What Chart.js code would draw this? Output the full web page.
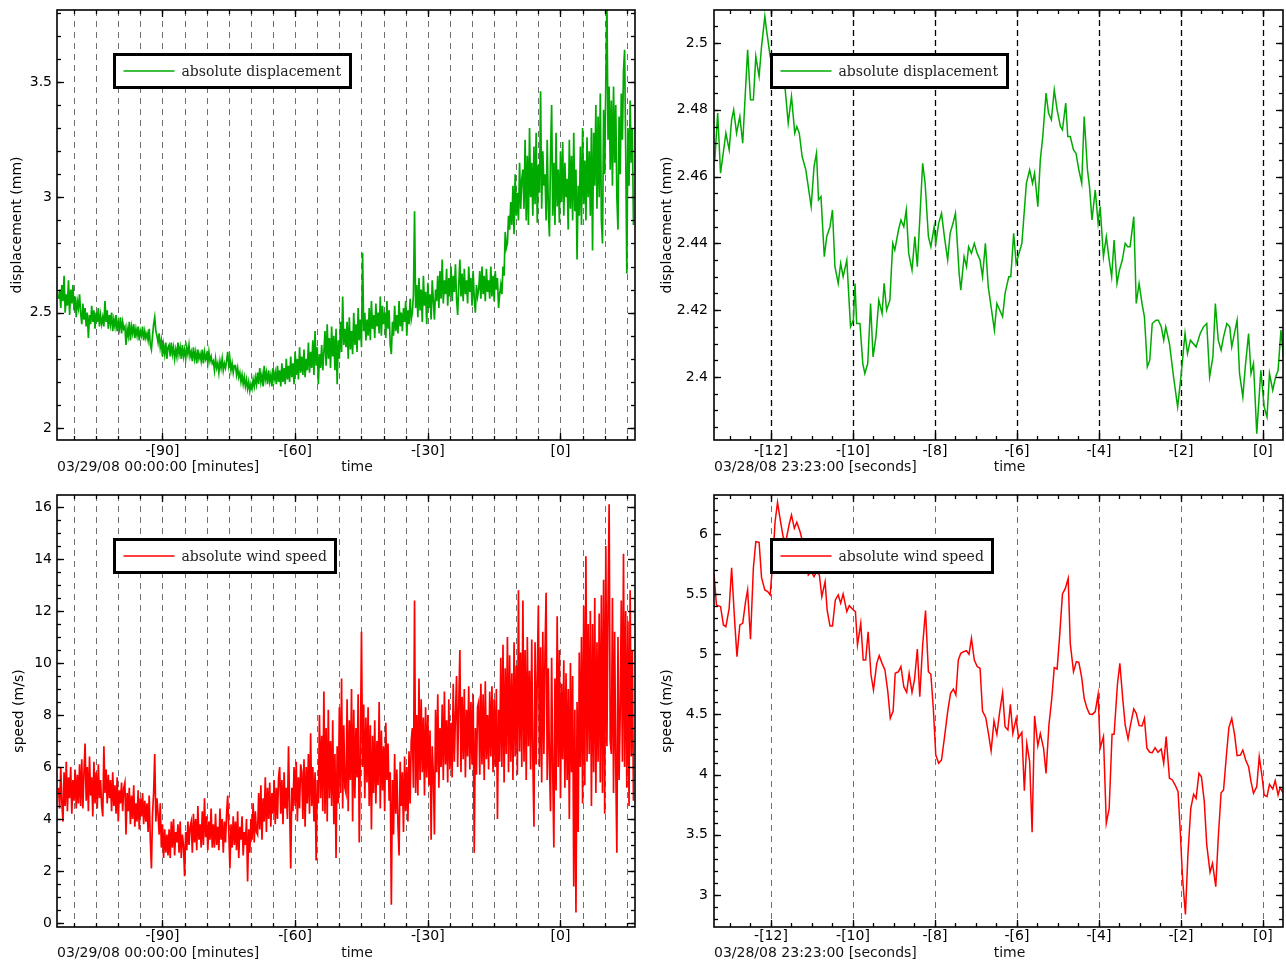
<!DOCTYPE html>
<html lang="en">
<head>
<meta charset="UTF-8">
<title>Absolute displacement and wind speed</title>
<style>
  html, body { margin: 0; padding: 0; background: #fff; }
  .wrap { position: relative; width: 1286px; height: 962px; overflow: hidden; }
  .panel { position: absolute; width: 643px; height: 481px; }
  #p1 { left: 0; top: 0; }
  #p2 { left: 643px; top: 0; }
  #p3 { left: 0; top: 481px; }
  #p4 { left: 643px; top: 481px; }
</style>
</head>
<body>
<div class="wrap">
  <div class="panel" id="p1"><canvas id="dispMinChart"></canvas></div>
  <div class="panel" id="p2"><canvas id="dispSecChart"></canvas></div>
  <div class="panel" id="p3"><canvas id="windMinChart"></canvas></div>
  <div class="panel" id="p4"><canvas id="windSecChart"></canvas></div>
</div>

<script src="https://cdn.jsdelivr.net/npm/chart.js@4.4.0/dist/chart.umd.min.js"></script>
<script>
  // --- minute series (left column), one sample every quarter minute ---
  const minuteStart = -113.5;
  const minuteStep = 0.25;

  // one row = 5 minutes
  const dispMinutes = [
    2.56, 2.60, 2.52, 2.62, 2.55, 2.66, 2.50, 2.58, 2.53, 2.64, 2.49, 2.60, 2.54, 2.62, 2.51, 2.57, 2.48, 2.55, 2.52, 2.58,
    2.50, 2.45, 2.54, 2.47, 2.52, 2.44, 2.50, 2.39, 2.49, 2.45, 2.53, 2.46, 2.51, 2.43, 2.50, 2.46, 2.52, 2.44, 2.49, 2.45,
    2.48, 2.44, 2.55, 2.46, 2.51, 2.43, 2.49, 2.45, 2.50, 2.42, 2.47, 2.44, 2.49, 2.42, 2.46, 2.43, 2.48, 2.41, 2.46, 2.43,
    2.44, 2.36, 2.43, 2.40, 2.46, 2.38, 2.44, 2.41, 2.45, 2.39, 2.43, 2.40, 2.44, 2.38, 2.42, 2.40, 2.44, 2.38, 2.42, 2.39,
    2.41, 2.38, 2.43, 2.36, 2.34, 2.40, 2.45, 2.48, 2.42, 2.40, 2.37, 2.41, 2.35, 2.38, 2.31, 2.36, 2.32, 2.37, 2.30, 2.35,
    2.36, 2.31, 2.37, 2.32, 2.35, 2.30, 2.34, 2.31, 2.37, 2.32, 2.35, 2.30, 2.36, 2.31, 2.34, 2.30, 2.35, 2.32, 2.36, 2.31,
    2.33, 2.29, 2.35, 2.30, 2.33, 2.28, 2.34, 2.30, 2.32, 2.29, 2.34, 2.28, 2.33, 2.30, 2.32, 2.28, 2.33, 2.29, 2.31, 2.28,
    2.29, 2.25, 2.30, 2.26, 2.28, 2.24, 2.29, 2.26, 2.30, 2.25, 2.28, 2.26, 2.29, 2.33, 2.27, 2.30, 2.25, 2.28, 2.24, 2.27,
    2.27, 2.23, 2.26, 2.22, 2.24, 2.20, 2.23, 2.19, 2.22, 2.18, 2.21, 2.17, 2.20, 2.16, 2.19, 2.17, 2.21, 2.18, 2.22, 2.19,
    2.24, 2.19, 2.26, 2.20, 2.23, 2.18, 2.27, 2.21, 2.24, 2.19, 2.25, 2.20, 2.23, 2.18, 2.26, 2.21, 2.24, 2.19, 2.27, 2.20,
    2.25, 2.18, 2.28, 2.20, 2.26, 2.19, 2.30, 2.21, 2.27, 2.20, 2.31, 2.22, 2.28, 2.19, 2.33, 2.23, 2.30, 2.21, 2.35, 2.24,
    2.31, 2.23, 2.34, 2.22, 2.30, 2.25, 2.37, 2.24, 2.33, 2.26, 2.38, 2.23, 2.42, 2.27, 2.35, 2.19, 2.32, 2.26, 2.36, 2.25,
    2.33, 2.42, 2.27, 2.45, 2.30, 2.39, 2.26, 2.44, 2.31, 2.40, 2.25, 2.43, 2.19, 2.38, 2.30, 2.46, 2.33, 2.57, 2.36, 2.43,
    2.35, 2.46, 2.30, 2.48, 2.34, 2.42, 2.32, 2.50, 2.36, 2.45, 2.33, 2.52, 2.38, 2.47, 2.35, 2.76, 2.42, 2.50, 2.38, 2.47,
    2.40, 2.52, 2.38, 2.55, 2.43, 2.49, 2.39, 2.54, 2.44, 2.50, 2.41, 2.57, 2.40, 2.53, 2.45, 2.50, 2.39, 2.55, 2.43, 2.51,
    2.36, 2.32, 2.46, 2.40, 2.53, 2.42, 2.49, 2.41, 2.55, 2.44, 2.50, 2.42, 2.52, 2.46, 2.55, 2.40, 2.51, 2.45, 2.56, 2.47,
    2.50, 2.58, 2.94, 2.52, 2.62, 2.48, 2.65, 2.51, 2.60, 2.46, 2.66, 2.53, 2.59, 2.45, 2.63, 2.52, 2.58, 2.47, 2.64, 2.55,
    2.47, 2.60, 2.55, 2.66, 2.52, 2.68, 2.56, 2.73, 2.54, 2.64, 2.58, 2.69, 2.53, 2.65, 2.57, 2.70, 2.55, 2.66, 2.59, 2.71,
    2.56, 2.49, 2.62, 2.73, 2.57, 2.67, 2.55, 2.69, 2.58, 2.64, 2.54, 2.70, 2.59, 2.65, 2.53, 2.68, 2.56, 2.50, 2.62, 2.57,
    2.60, 2.68, 2.56, 2.70, 2.58, 2.66, 2.55, 2.69, 2.59, 2.64, 2.56, 2.70, 2.57, 2.66, 2.55, 2.68, 2.60, 2.65, 2.52, 2.58,
    2.62, 2.58, 2.70, 2.66, 2.85, 2.78, 2.80, 2.92, 2.86, 2.98, 2.88, 3.05, 2.84, 3.10, 2.92, 3.02, 2.90, 3.15, 2.95, 3.08,
    3.12, 2.95, 3.25, 2.90, 3.18, 2.88, 3.30, 3.00, 3.15, 2.92, 3.22, 2.97, 3.28, 2.89, 3.14, 3.02, 3.46, 2.95, 3.20, 3.05,
    3.10, 2.90, 3.25, 2.95, 2.83, 3.18, 3.40, 2.92, 3.15, 2.88, 3.28, 2.96, 3.12, 2.89, 3.20, 2.98, 3.24, 2.92, 3.15, 3.00,
    3.08, 2.86, 3.25, 2.95, 3.18, 2.90, 3.28, 2.94, 3.12, 2.73, 3.05, 2.92, 3.22, 2.88, 3.30, 2.97, 3.16, 2.90, 3.26, 3.00,
    3.20, 2.92, 3.30, 2.77, 3.28, 3.05, 3.40, 2.95, 3.35, 3.00, 3.45, 2.90, 2.80, 3.38, 3.10, 3.50, 3.86, 3.25, 3.48, 3.12,
    3.42, 3.05, 3.48, 3.15, 3.40, 3.00, 2.86, 3.35, 3.10, 3.45, 3.25, 3.55, 3.64, 3.20, 2.67, 3.30, 3.05, 3.42, 3.15, 3.30, 2.88
  ];

  const windMinutes = [
    5.2, 4.4, 6.0, 4.6, 3.9, 5.8, 4.5, 6.2, 4.3, 5.6, 4.8, 6.0, 4.2, 5.5, 4.7, 5.9, 4.4, 5.7, 4.6, 6.1,
    4.5, 6.3, 4.4, 5.8, 6.9, 4.7, 6.0, 4.3, 6.4, 4.9, 5.6, 4.1, 6.2, 4.6, 5.8, 4.4, 6.1, 4.8, 5.5, 4.5,
    4.1, 6.8, 5.0, 5.9, 4.6, 5.7, 4.8, 5.5, 4.3, 5.8, 4.5, 5.3, 4.2, 5.6, 3.9, 5.1, 4.6, 5.4, 4.3, 5.2,
    5.4, 3.4, 5.0, 4.3, 5.2, 3.8, 4.9, 4.0, 5.3, 3.7, 4.6, 3.9, 5.1, 3.6, 4.8, 4.1, 5.0, 3.8, 4.7, 3.9,
    4.6, 3.5, 4.9, 3.2, 2.1, 4.2, 5.0, 6.5, 3.9, 4.8, 4.2, 3.4, 4.6, 2.9, 3.8, 2.5, 3.6, 2.7, 3.4, 2.6,
    3.6, 2.5, 3.9, 2.9, 4.0, 2.6, 3.5, 3.1, 3.8, 2.7, 3.9, 2.5, 3.4, 3.0, 1.8, 3.5, 2.8, 3.9, 3.0, 3.7,
    3.9, 2.7, 4.2, 3.1, 4.0, 2.8, 4.5, 3.2, 3.8, 2.9, 4.3, 3.0, 4.8, 3.3, 4.1, 2.8, 3.9, 3.2, 4.4, 2.9,
    3.8, 2.9, 4.2, 3.0, 3.7, 2.8, 4.4, 3.2, 4.0, 2.7, 3.9, 3.1, 4.2, 4.9, 3.5, 2.1, 3.8, 2.9, 4.1, 3.0,
    3.9, 2.8, 4.3, 2.5, 3.7, 3.2, 4.1, 2.6, 3.5, 3.0, 4.0, 1.6, 3.6, 2.7, 4.0, 3.2, 4.6, 3.1, 4.3, 3.5,
    3.4, 5.0, 3.6, 5.3, 3.2, 4.8, 3.9, 5.6, 3.5, 5.2, 4.0, 5.4, 3.7, 5.0, 4.2, 5.5, 3.8, 5.2, 4.0, 5.6,
    6.0, 4.2, 5.5, 3.8, 5.8, 4.4, 5.2, 4.0, 6.8, 4.5, 2.1, 5.2, 4.3, 6.0, 4.5, 6.2, 3.9, 5.6, 4.4, 6.1,
    5.8, 4.0, 6.3, 3.7, 6.0, 4.6, 6.5, 4.2, 7.3, 4.5, 6.0, 3.9, 5.8, 2.4, 5.5, 4.6, 8.0, 4.8, 7.2, 4.3,
    8.9, 4.2, 7.5, 3.9, 8.2, 4.8, 7.0, 4.5, 7.8, 3.8, 6.5, 2.5, 6.8, 4.6, 8.3, 5.0, 9.4, 4.4, 7.6, 5.2,
    5.0, 8.6, 4.3, 7.8, 5.5, 9.0, 3.9, 8.2, 4.8, 7.5, 5.6, 8.8, 3.1, 6.5, 11.2, 6.0, 8.4, 4.8, 7.9, 5.4,
    8.3, 4.5, 7.6, 3.6, 7.2, 5.0, 7.8, 4.6, 7.0, 5.3, 8.5, 4.4, 7.4, 5.1, 6.8, 4.3, 7.7, 5.5, 6.9, 4.7,
    5.8, 0.7, 5.5, 3.4, 6.5, 4.2, 5.9, 3.8, 2.6, 6.2, 4.5, 5.8, 3.5, 6.4, 4.3, 6.0, 3.9, 6.6, 4.6, 7.0,
    7.5, 5.2, 12.4, 5.0, 8.0, 4.9, 9.4, 5.5, 8.6, 5.8, 7.9, 4.9, 8.3, 5.6, 8.0, 5.3, 7.4, 3.2, 6.8, 5.7,
    3.4, 8.2, 5.8, 8.8, 5.2, 7.5, 6.0, 8.4, 5.5, 8.9, 6.1, 7.8, 5.4, 8.6, 5.9, 7.7, 5.6, 9.2, 6.2, 8.0,
    9.5, 6.0, 8.4, 10.5, 5.8, 8.7, 6.3, 9.0, 5.6, 8.2, 6.4, 9.1, 5.9, 8.5, 6.1, 8.8, 2.7, 7.5, 5.7, 8.3,
    8.5, 5.7, 9.2, 6.1, 8.8, 5.5, 9.3, 6.3, 8.0, 5.9, 8.9, 6.4, 9.1, 5.8, 8.6, 6.0, 9.0, 4.0, 8.2, 6.2,
    10.2, 6.0, 10.7, 5.4, 9.8, 6.5, 11.0, 5.8, 10.3, 6.2, 9.6, 5.5, 10.8, 6.4, 9.9, 5.7, 12.8, 6.6, 10.4, 6.0,
    12.4, 6.2, 10.5, 5.5, 11.0, 6.8, 9.7, 5.9, 10.9, 6.3, 3.7, 10.8, 6.1, 9.5, 12.2, 6.0, 10.6, 5.4, 11.2, 6.5,
    10.4, 12.7, 5.5, 9.8, 6.2, 4.3, 10.2, 5.8, 2.9, 9.4, 5.1, 11.8, 6.0, 10.5, 4.8, 9.2, 6.3, 10.1, 5.2, 9.6,
    5.5, 9.0, 4.0, 10.0, 5.8, 9.5, 1.4, 8.2, 0.4, 8.5, 3.5, 10.4, 6.0, 11.0, 4.6, 12.2, 5.3, 14.1, 6.2, 11.5,
    6.5, 12.0, 4.5, 11.5, 5.8, 12.5, 5.0, 10.8, 6.2, 11.9, 5.4, 12.6, 5.0, 13.2, 4.2, 14.5, 6.8, 12.2, 16.1, 7.0,
    6.5, 12.5, 5.0, 11.2, 6.0, 2.7, 11.0, 5.5, 8.0, 12.4, 6.2, 14.2, 6.0, 12.0, 5.2, 11.6, 4.5, 12.8, 6.4, 10.5, 4.7
  ];

  // --- second series (right column) ---
  const dispSecTimes = [
    -13.37, -13.30, -13.23, -13.10, -13.02, -12.96, -12.91, -12.84, -12.76, -12.69,
    -12.57, -12.50, -12.43, -12.37, -12.29, -12.23, -12.15, -12.11, -12.02, -11.90,
    -11.78, -11.66, -11.58, -11.50, -11.42, -11.37, -11.31, -11.24, -11.15, -11.02,
    -10.95, -10.89, -10.84, -10.78, -10.70, -10.64, -10.56, -10.50, -10.44, -10.36,
    -10.30, -10.24, -10.15, -10.06, -9.99, -9.95, -9.91, -9.83, -9.76, -9.71,
    -9.64, -9.57, -9.51, -9.44, -9.37, -9.29, -9.24, -9.18, -9.10, -9.03,
    -8.98, -8.89, -8.83, -8.76, -8.70, -8.64, -8.56, -8.49, -8.43, -8.30,
    -8.24, -8.16, -8.10, -8.02, -7.98, -7.91, -7.84, -7.77, -7.69, -7.63,
    -7.56, -7.50, -7.41, -7.37, -7.29, -7.23, -7.18, -7.11, -7.04, -6.97,
    -6.90, -6.84, -6.77, -6.70,
    -6.55, -6.49, -6.35, -6.29, -6.20, -6.15, -6.08, -6.02, -5.88, -5.77,
    -5.69, -5.62, -5.57, -5.49, -5.43, -5.37, -5.29, -5.23, -5.16, -5.09,
    -5.02, -4.94, -4.89, -4.81, -4.76, -4.70, -4.62, -4.56, -4.49, -4.42,
    -4.36, -4.28, -4.23, -4.17, -4.09, -4.02, -3.97, -3.89, -3.82, -3.75,
    -3.69, -3.63, -3.56, -3.50, -3.43, -3.36, -3.30, -3.24, -3.15, -3.09,
    -3.02, -2.95, -2.89, -2.82, -2.76, -2.70, -2.61, -2.55, -2.48, -2.42,
    -2.37, -2.28, -2.18, -2.08, -2.00, -1.90, -1.84, -1.77, -1.63, -1.53,
    -1.45, -1.37, -1.30, -1.22, -1.16, -1.09, -1.02, -0.96, -0.88, -0.81,
    -0.76, -0.63, -0.57, -0.49, -0.43, -0.35, -0.29, -0.23, -0.15, -0.05,
    0.03, 0.10, 0.16, 0.24, 0.31, 0.37, 0.44, 0.50
  ];
  const dispSeconds = [
    2.465, 2.479, 2.461, 2.473, 2.468, 2.477, 2.480, 2.473, 2.478, 2.470,
    2.498, 2.483, 2.483, 2.496, 2.490, 2.499, 2.508, 2.504, 2.496, 2.493,
    2.490, 2.487, 2.476, 2.484, 2.473, 2.475, 2.473, 2.466, 2.462, 2.451,
    2.463, 2.467, 2.453, 2.454, 2.436, 2.442, 2.445, 2.450, 2.433, 2.428,
    2.434, 2.430, 2.435, 2.415, 2.417, 2.428, 2.416, 2.416, 2.404, 2.401,
    2.404, 2.422, 2.406, 2.412, 2.423, 2.419, 2.428, 2.420, 2.423, 2.440,
    2.438, 2.444, 2.447, 2.445, 2.450, 2.437, 2.432, 2.442, 2.433, 2.464,
    2.458, 2.442, 2.439, 2.445, 2.440, 2.446, 2.449, 2.442, 2.435, 2.443,
    2.446, 2.449, 2.431, 2.426, 2.436, 2.433, 2.439, 2.437, 2.440, 2.437,
    2.435, 2.430, 2.440, 2.427,
    2.414, 2.422, 2.418, 2.425, 2.430, 2.430, 2.443, 2.434, 2.440, 2.458,
    2.462, 2.458, 2.461, 2.451, 2.465, 2.472, 2.485, 2.479, 2.477, 2.486,
    2.480, 2.475, 2.474, 2.482, 2.472, 2.472, 2.468, 2.467, 2.462, 2.458,
    2.478, 2.462, 2.457, 2.447, 2.456, 2.446, 2.451, 2.436, 2.442, 2.435,
    2.430, 2.441, 2.428, 2.432, 2.435, 2.440, 2.439, 2.439, 2.448, 2.422,
    2.428, 2.422, 2.418, 2.403, 2.405, 2.416, 2.417, 2.417, 2.415, 2.411,
    2.415, 2.410, 2.400, 2.391, 2.400, 2.413, 2.407, 2.411, 2.409, 2.413,
    2.415, 2.416, 2.400, 2.406, 2.422, 2.411, 2.408, 2.412, 2.416, 2.415,
    2.409, 2.417, 2.401, 2.394, 2.403, 2.413, 2.401, 2.404, 2.383, 2.402,
    2.391, 2.388, 2.401, 2.396, 2.400, 2.402, 2.414, 2.406
  ];

  const windSecTimes = [
    -13.39, -13.33, -13.23, -13.16, -13.10, -13.02, -12.96, -12.89, -12.83, -12.76,
    -12.69, -12.62, -12.57, -12.50, -12.43, -12.37, -12.29, -12.23, -12.15, -12.08,
    -12.02, -11.96, -11.90, -11.84, -11.78, -11.70, -11.63, -11.56, -11.50, -11.43,
    -11.37, -11.29, -11.23, -11.16, -11.09, -11.02, -10.95, -10.89, -10.82, -10.76,
    -10.68, -10.63, -10.56, -10.50, -10.43, -10.36, -10.30, -10.24, -10.15, -10.09,
    -9.99, -9.94, -9.89, -9.81, -9.75, -9.69, -9.63, -9.56, -9.50, -9.42,
    -9.36, -9.29, -9.22, -9.15, -9.09, -9.02, -8.97, -8.89, -8.83, -8.76,
    -8.69, -8.63, -8.56, -8.50, -8.43, -8.37, -8.30, -8.23, -8.16, -8.10,
    -8.04, -7.98, -7.91, -7.84, -7.76, -7.69, -7.62, -7.55, -7.49, -7.43,
    -7.37, -7.30, -7.23, -7.17, -7.11, -7.04, -6.97, -6.90, -6.84, -6.76,
    -6.69, -6.63, -6.56,
    -6.49, -6.42, -6.35, -6.29, -6.22, -6.16, -6.10, -6.02, -5.96, -5.88,
    -5.82, -5.76, -5.69, -5.63, -5.57, -5.49, -5.43, -5.35, -5.29, -5.22,
    -5.15, -5.09, -5.02, -4.96, -4.89, -4.82, -4.75, -4.70, -4.62, -4.55,
    -4.49, -4.42, -4.36, -4.29, -4.23, -4.16, -4.09, -4.02, -3.97, -3.89,
    -3.82, -3.75, -3.68, -3.63, -3.55, -3.49, -3.42, -3.36, -3.29, -3.23,
    -3.15, -3.09, -3.02, -2.95, -2.89, -2.83, -2.76, -2.70, -2.63, -2.56,
    -2.48, -2.42, -2.36, -2.28, -2.21, -2.14, -2.07, -2.02, -1.96, -1.89,
    -1.83, -1.76, -1.69, -1.63, -1.56, -1.50, -1.43, -1.37, -1.29, -1.23,
    -1.15, -1.09, -1.02, -0.96, -0.89, -0.83, -0.76, -0.69, -0.63, -0.55,
    -0.49, -0.42, -0.35, -0.29, -0.23, -0.15, -0.09, -0.02, 0.03, 0.10,
    0.16, 0.24, 0.30, 0.37, 0.42, 0.50
  ];
  const windSeconds = [
    5.673, 5.410, 5.396, 5.244, 5.230, 5.382, 5.720, 5.299, 4.981, 5.244,
    5.258, 5.438, 5.535, 5.125, 5.715, 5.936, 5.931, 5.637, 5.535, 5.521,
    5.493, 5.756, 6.102, 6.263, 6.130, 5.970, 5.950, 6.075, 6.158, 6.047,
    6.097, 6.019, 5.936, 5.798, 5.659, 5.687, 5.645, 5.687, 5.659, 5.479,
    5.604, 5.368, 5.235, 5.235, 5.452, 5.493, 5.424, 5.501, 5.355, 5.404,
    5.368, 5.355, 5.078, 5.258, 4.953, 4.953, 5.188, 4.828, 4.704, 4.925,
    4.989, 4.925, 4.870, 4.690, 4.468, 4.529, 4.842, 4.856, 4.898, 4.731,
    4.684, 4.842, 4.684, 4.787, 5.044, 4.648, 5.078, 5.363, 4.856, 4.834,
    4.551, 4.163, 4.094, 4.122, 4.330, 4.524, 4.676, 4.712, 4.662, 4.953,
    5.008, 5.022, 5.030, 5.000, 5.133, 4.953, 4.898, 4.884, 4.529, 4.474,
    4.330, 4.197, 4.446,
    4.335, 4.524, 4.681, 4.399, 4.371, 4.584, 4.343, 4.468, 4.307, 4.352,
    3.867, 4.260, 4.108, 3.521, 4.488, 4.241, 4.341, 4.219, 4.011, 4.413,
    4.634, 4.889, 4.878, 5.147, 5.501, 5.548, 5.632, 5.091, 4.856, 4.939,
    4.934, 4.806, 4.634, 4.551, 4.504, 4.501, 4.524, 4.668, 4.219, 4.316,
    3.596, 3.720, 4.335, 4.335, 4.745, 4.925, 4.634, 4.413, 4.296, 4.413,
    4.546, 4.510, 4.407, 4.404, 4.468, 4.219, 4.186, 4.183, 4.224, 4.186,
    4.213, 4.094, 4.316, 3.970, 3.956, 3.914, 3.859, 3.554, 3.138, 2.839,
    3.332, 3.720, 3.837, 3.803, 4.011, 3.983, 3.776, 3.416, 3.188, 3.263,
    3.069, 3.471, 3.850, 3.873, 4.163, 4.391, 4.468, 4.330, 4.158, 4.163,
    4.205, 4.122, 4.066, 3.942, 3.845, 3.900, 4.150, 3.983, 3.831, 3.817,
    3.920, 3.881, 3.950, 3.831, 3.892, 3.845
  ];

  // --- ticks ---
  const minuteTicks = [-90, -60, -30, 0];
  const minuteTickLabels = ['-[90]', '-[60]', '-[30]', '[0]'];
  const secondTicks = [-12, -10, -8, -6, -4, -2, 0];
  const secondTickLabels = ['-[12]', '-[10]', '-[8]', '-[6]', '-[4]', '-[2]', '[0]'];
  const dispMinTicks = [2, 2.5, 3, 3.5];
  const dispMinTickLabels = ['2', '2.5', '3', '3.5'];
  const dispSecTicks = [2.4, 2.42, 2.44, 2.46, 2.48, 2.5];
  const dispSecTickLabels = ['2.4', '2.42', '2.44', '2.46', '2.48', '2.5'];
  const windMinTicks = [0, 2, 4, 6, 8, 10, 12, 14, 16];
  const windMinTickLabels = ['0', '2', '4', '6', '8', '10', '12', '14', '16'];
  const windSecTicks = [3, 3.5, 4, 4.5, 5, 5.5, 6];
  const windSecTickLabels = ['3', '3.5', '4', '4.5', '5', '5.5', '6'];

  if (dispMinutes.length !== 521 || windMinutes.length !== 521 ||
      dispSecTimes.length !== dispSeconds.length ||
      windSecTimes.length !== windSeconds.length) {
    throw new Error('series length mismatch ' + dispMinutes.length + ' ' + windMinutes.length);
  }

  const minuteTimes = dispMinutes.map((_, i) => minuteStart + i * minuteStep);

  Chart.defaults.font.family = '"DejaVu Sans", sans-serif';
  Chart.defaults.font.size = 14;
  Chart.defaults.color = '#000';

  function steps(min, max, step) {
    const out = [];
    for (let k = Math.ceil(min / step - 1e-9); k * step <= max + 1e-9; k++) {
      out.push(Math.round(k * step * 1e6) / 1e6);
    }
    return out;
  }

  // frame, dashed verticals, inward ticks, boxed legend and the texts under the axis
  function framePlugin(o) {
    return {
      id: 'frame',
      beforeDatasetsDraw(chart) {
        const { ctx, chartArea: a, scales: { x } } = chart;
        ctx.save();
        ctx.beginPath();
        ctx.rect(a.left, a.top, a.width, a.height);
        ctx.clip();
        ctx.strokeStyle = o.gridColor;
        ctx.lineWidth = o.gridWidth;
        ctx.setLineDash(o.gridDash);
        o.gridValues.forEach(v => {
          const px = Math.round(x.getPixelForValue(v)) + 0.5;
          ctx.beginPath();
          ctx.moveTo(px, a.top);
          ctx.lineTo(px, a.bottom);
          ctx.stroke();
        });
        ctx.restore();
      },
      afterDatasetsDraw(chart) {
        const { ctx, chartArea: a, scales: { x, y } } = chart;
        ctx.save();
        ctx.strokeStyle = '#000';
        ctx.lineWidth = 1.3;
        ctx.setLineDash([]);
        const seg = (x1, y1, x2, y2) => {
          ctx.beginPath(); ctx.moveTo(x1, y1); ctx.lineTo(x2, y2); ctx.stroke();
        };
        const yTick = (v, len) => {
          const p = Math.round(y.getPixelForValue(v)) + 0.5;
          if (p < a.top || p > a.bottom) return;
          seg(a.left, p, a.left + len, p);
          seg(a.right, p, a.right - len, p);
        };
        const xTick = (v, len) => {
          const p = Math.round(x.getPixelForValue(v)) + 0.5;
          if (p < a.left || p > a.right) return;
          seg(p, a.bottom, p, a.bottom - len);
          seg(p, a.top, p, a.top + len);
        };
        o.yMinor.forEach(v => yTick(v, 4));
        o.yTicks.forEach(v => yTick(v, 7));
        o.xMinor.forEach(v => xTick(v, 4));
        o.xTicks.forEach(v => xTick(v, 7));

        ctx.lineWidth = 1.6;
        ctx.strokeRect(a.left, a.top, a.width, a.height);

        // legend box
        ctx.font = '14px "DejaVu Serif", serif';
        const tw = ctx.measureText(o.legendText).width;
        const lx = a.left + 57.5, ly = a.top + 44.5, lh = 33;
        const lw = Math.round(67 + tw + 9);
        ctx.fillStyle = '#fff';
        ctx.fillRect(lx, ly, lw, lh);
        ctx.lineWidth = 3;
        ctx.strokeStyle = '#000';
        ctx.strokeRect(lx, ly, lw, lh);
        ctx.strokeStyle = o.color;
        ctx.lineWidth = 1.5;
        seg(lx + 9, ly + lh / 2, lx + 60, ly + lh / 2);
        ctx.fillStyle = '#222';
        ctx.textBaseline = 'middle';
        ctx.textAlign = 'left';
        ctx.fillText(o.legendText, lx + 67, ly + lh / 2 + 1);

        // reference time and axis name
        ctx.font = '14px "DejaVu Sans", sans-serif';
        ctx.fillStyle = '#111';
        ctx.fillText(o.dateText, a.left, a.bottom + o.dateDy);
        ctx.textAlign = 'center';
        ctx.fillText('time', (a.left + a.right) / 2 + 11, a.bottom + o.dateDy);
        ctx.restore();
      }
    };
  }

  function panel(id, o) {
    o.yMinor = steps(o.yMin, o.yMax, o.yMinorStep);
    o.xMinor = steps(o.xMin, o.xMax, o.xMinorStep);
    return new Chart(document.getElementById(id), {
      type: 'line',
      data: {
        datasets: [{
          label: o.legendText,
          data: o.times.map((t, i) => ({ x: t, y: o.values[i] })),
          borderColor: o.color,
          borderWidth: o.lineWidth,
          pointRadius: 0,
          tension: 0
        }]
      },
      options: {
        responsive: true,
        maintainAspectRatio: false,
        animation: false,
        events: [],
        layout: { padding: { left: 0, top: o.padTop, right: o.padRight, bottom: 0 } },
        plugins: { legend: { display: false }, tooltip: { enabled: false } },
        scales: {
          x: {
            type: 'linear',
            min: o.xMin,
            max: o.xMax,
            grid: { display: false, drawTicks: false },
            border: { display: false },
            afterBuildTicks: s => { s.ticks = o.xTicks.map(v => ({ value: v })); },
            afterFit: s => { s.height = o.xHeight; s.paddingLeft = 0; s.paddingRight = 0; },
            ticks: {
              autoSkip: false,
              maxRotation: 0,
              padding: o.xPad,
              callback: (v, i) => o.xLabels[i]
            }
          },
          y: {
            type: 'linear',
            min: o.yMin,
            max: o.yMax,
            grid: { display: false, drawTicks: false },
            border: { display: false },
            afterBuildTicks: s => { s.ticks = o.yTicks.map(v => ({ value: v })); },
            afterFit: s => { s.width = o.yWidth; s.paddingTop = 0; s.paddingBottom = 0; },
            ticks: {
              autoSkip: false,
              padding: o.yPad,
              callback: (v, i) => o.yLabels[i]
            },
            title: {
              display: true,
              text: o.yTitle,
              padding: { top: o.titlePad, bottom: 0 }
            }
          }
        }
      },
      plugins: [framePlugin(o)]
    });
  }

  const minuteGrid = { gridValues: steps(-110, 15, 5), gridColor: '#707070', gridDash: [6, 5], gridWidth: 1 };

  panel('dispMinChart', Object.assign({
    times: minuteTimes, values: dispMinutes, color: '#00aa00', lineWidth: 1.7,
    legendText: 'absolute displacement', yTitle: 'displacement (mm)',
    dateText: '03/29/08 00:00:00 [minutes]', dateDy: 27,
    xMin: -113.85, xMax: 16.85, xTicks: minuteTicks, xLabels: minuteTickLabels, xMinorStep: 5,
    yMin: 1.948, yMax: 3.812, yTicks: dispMinTicks, yLabels: dispMinTickLabels, yMinorStep: 0.1,
    padTop: 10, padRight: 8, xHeight: 41, yWidth: 57, xPad: 3, yPad: 5, titlePad: 9
  }, minuteGrid));

  panel('windMinChart', Object.assign({
    times: minuteTimes, values: windMinutes, color: '#ff0000', lineWidth: 1.7,
    legendText: 'absolute wind speed', yTitle: 'speed (m/s)',
    dateText: '03/29/08 00:00:00 [minutes]', dateDy: 26,
    xMin: -113.85, xMax: 16.85, xTicks: minuteTicks, xLabels: minuteTickLabels, xMinorStep: 5,
    yMin: -0.154, yMax: 16.46, yTicks: windMinTicks, yLabels: windMinTickLabels, yMinorStep: 0.5,
    padTop: 14, padRight: 8, xHeight: 35, yWidth: 57, xPad: 1, yPad: 5, titlePad: 11
  }, minuteGrid));

  panel('dispSecChart', {
    times: dispSecTimes, values: dispSeconds, color: '#00aa00', lineWidth: 1.5,
    legendText: 'absolute displacement', yTitle: 'displacement (mm)',
    dateText: '03/28/08 23:23:00 [seconds]', dateDy: 27,
    xMin: -13.39, xMax: 0.49, xTicks: secondTicks, xLabels: secondTickLabels, xMinorStep: 0.5,
    yMin: 2.3811, yMax: 2.5099, yTicks: dispSecTicks, yLabels: dispSecTickLabels, yMinorStep: 0.005,
    padTop: 10, padRight: 3, xHeight: 41, yWidth: 71, xPad: 3, yPad: 6, titlePad: 16,
    gridValues: secondTicks, gridColor: '#000', gridDash: [6, 4], gridWidth: 1.3
  });

  panel('windSecChart', {
    times: windSecTimes, values: windSeconds, color: '#ff0000', lineWidth: 1.5,
    legendText: 'absolute wind speed', yTitle: 'speed (m/s)',
    dateText: '03/28/08 23:23:00 [seconds]', dateDy: 26,
    xMin: -13.39, xMax: 0.49, xTicks: secondTicks, xLabels: secondTickLabels, xMinorStep: 0.5,
    yMin: 2.734, yMax: 6.324, yTicks: windSecTicks, yLabels: windSecTickLabels, yMinorStep: 0.1,
    padTop: 14, padRight: 3, xHeight: 35, yWidth: 71, xPad: 1, yPad: 6, titlePad: 16,
    gridValues: secondTicks, gridColor: '#707070', gridDash: [6, 5], gridWidth: 1
  });
</script>
</body>
</html>
